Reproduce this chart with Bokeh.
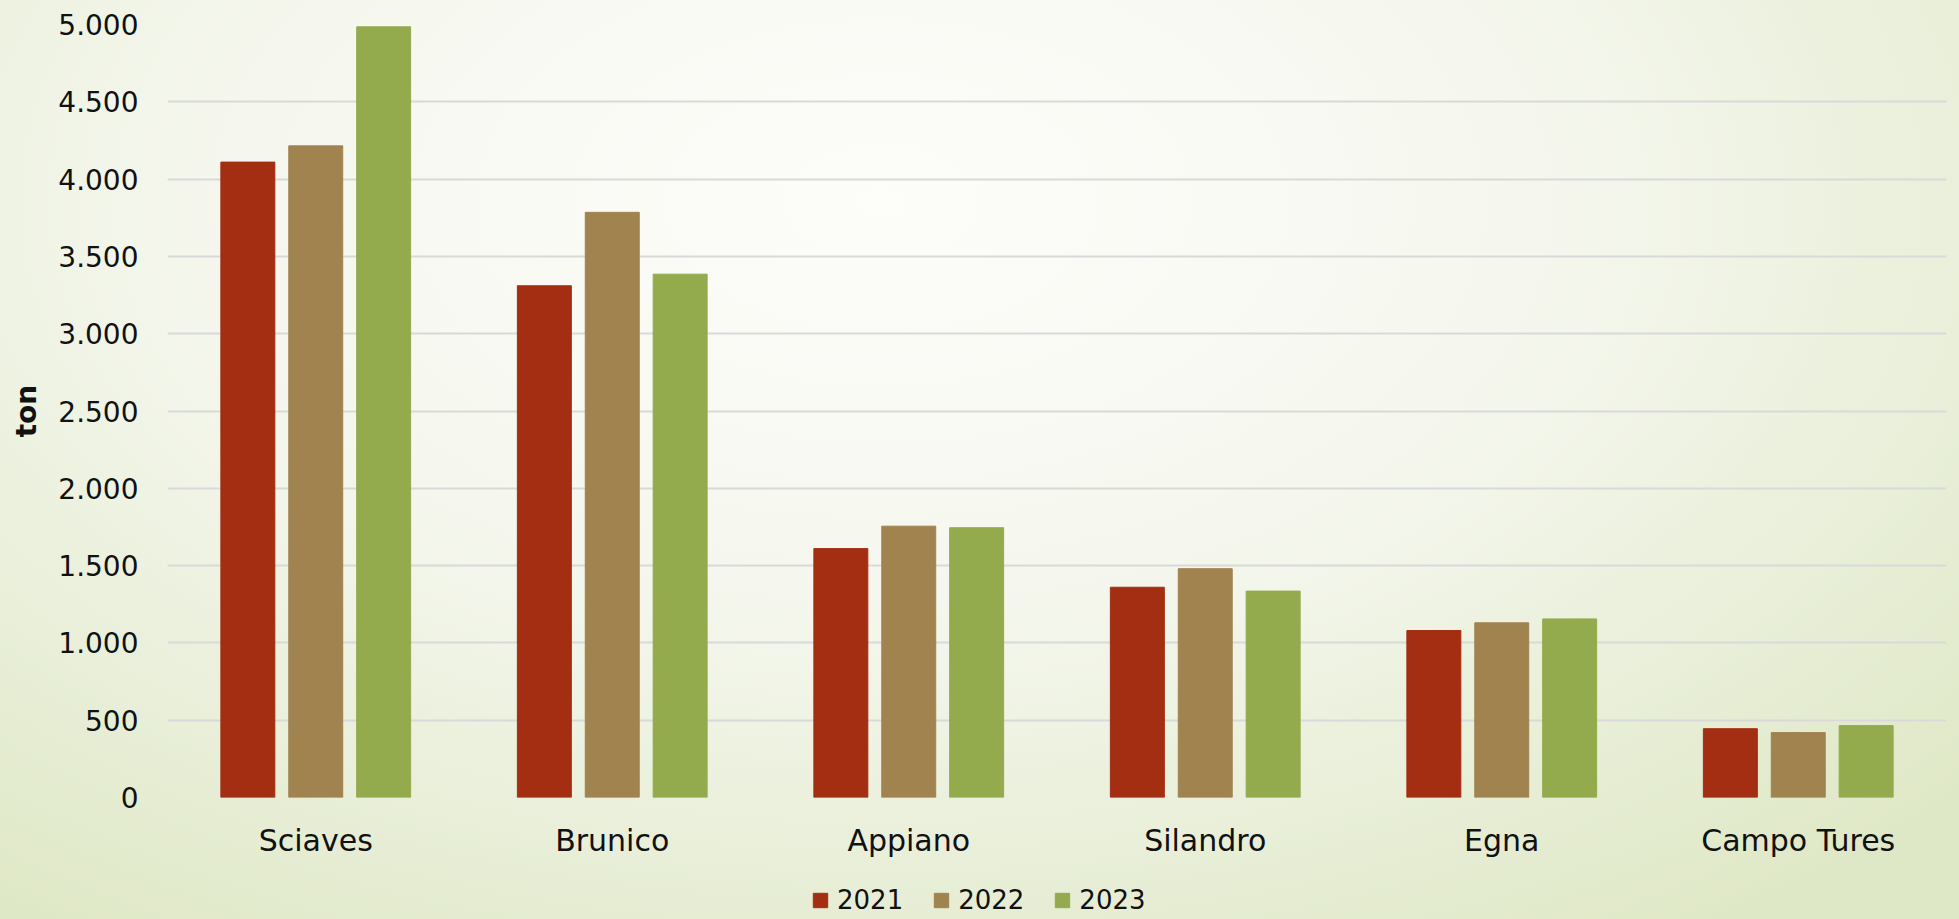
from bokeh.plotting import figure
from bokeh.layouts import column
from bokeh.models import (ColumnDataSource, FactorRange, Range1d, Legend, LegendItem,
                          CustomJSTickFormatter, FixedTicker)
from bokeh.transform import dodge
from bokeh.embed import file_html
from bokeh.resources import INLINE

categories = ["Sciaves", "Brunico", "Appiano", "Silandro", "Egna", "Campo Tures"]
years = ["2021", "2022", "2023"]
v2021 = [4110, 3310, 1610, 1360, 1080, 445]
v2022 = [4215, 3785, 1755, 1480, 1130, 420]
v2023 = [4985, 3385, 1745, 1335, 1155, 465]
colors = ["#A32E12", "#A0834F", "#93AB4D"]
y_ticks = [0, 500, 1000, 1500, 2000, 2500, 3000, 3500, 4000, 4500, 5000]

source = ColumnDataSource(data=dict(cat=categories, y2021=v2021, y2022=v2022, y2023=v2023))

FONT = "DejaVu Sans"

p = figure(x_range=FactorRange(*categories, range_padding=0), y_range=Range1d(0, 5000),
           width=1959, height=862, output_backend="svg", toolbar_location=None,
           min_border_left=167, min_border_right=13, min_border_top=24, min_border_bottom=65)
p.background_fill_alpha = 0
p.border_fill_alpha = 0
p.outline_line_color = None

for i, (yr, col) in enumerate(zip(years, colors)):
    off = (i - 1) * 0.229
    p.vbar(x=dodge("cat", off, range=p.x_range), top="y" + yr, width=0.182,
           source=source, fill_color=col, line_color=col)

p.xgrid.grid_line_color = None
p.ygrid.grid_line_color = "#d9d9d9"
p.ygrid.grid_line_width = 2
p.yaxis.ticker = FixedTicker(ticks=y_ticks)
p.yaxis.formatter = CustomJSTickFormatter(code="return tick.toString().replace(/\\B(?=(\\d{3})+(?!\\d))/g, '.');")

for ax in (p.xaxis, p.yaxis):
    ax.axis_line_color = None
    ax.major_tick_line_color = None
    ax.minor_tick_line_color = None
    ax.major_tick_out = 0
    ax.major_tick_in = 0
    ax.major_label_text_font = FONT
    ax.major_label_text_color = "#111111"

p.yaxis.major_label_text_font_size = "28px"
p.xaxis.major_label_text_font_size = "30px"
p.yaxis.major_label_standoff = 29
p.xaxis.major_label_standoff = 25
p.yaxis.axis_label = "ton"
p.yaxis.axis_label_text_font = FONT
p.yaxis.axis_label_text_font_size = "28px"
p.yaxis.axis_label_text_font_style = "bold"
p.yaxis.axis_label_text_color = "#111111"
p.yaxis.axis_label_standoff = 12

# legend strip below the chart (its key bars lie outside the strip's visible range)
p2 = figure(width=1959, height=57, output_backend="svg", toolbar_location=None,
            x_range=FactorRange(*categories, range_padding=0), y_range=Range1d(8000, 9000),
            min_border_left=0, min_border_right=0, min_border_top=0, min_border_bottom=0)
p2.background_fill_alpha = 0
p2.border_fill_alpha = 0
p2.outline_line_color = None
p2.axis.visible = False
p2.grid.visible = False
key_renderers = [p2.vbar(x="cat", top="y" + yr, width=0.182, source=source,
                         fill_color=c, line_color=c) for yr, c in zip(years, colors)]

legend = Legend(items=[LegendItem(label=yr, renderers=[r]) for yr, r in zip(years, key_renderers)],
                orientation="horizontal", location=(644, 4))
legend.label_text_font = FONT
legend.label_text_font_size = "26px"
legend.label_text_color = "#111111"
legend.glyph_width = 18
legend.glyph_height = 18
legend.label_standoff = 8
legend.spacing = 29
legend.padding = 0
legend.margin = 0
legend.background_fill_alpha = 0
legend.border_line_color = None
p2.add_layout(legend, "center")

layout = column(p, p2, spacing=0)
layout.styles = {"background": "radial-gradient(ellipse 75% 95% at 45% 22%, #fdfdfa 0%, #f5f7ee 45%, #e9efd9 75%, #dfe8c6 100%)"}

open("out.html", "w").write(file_html(layout, INLINE))
